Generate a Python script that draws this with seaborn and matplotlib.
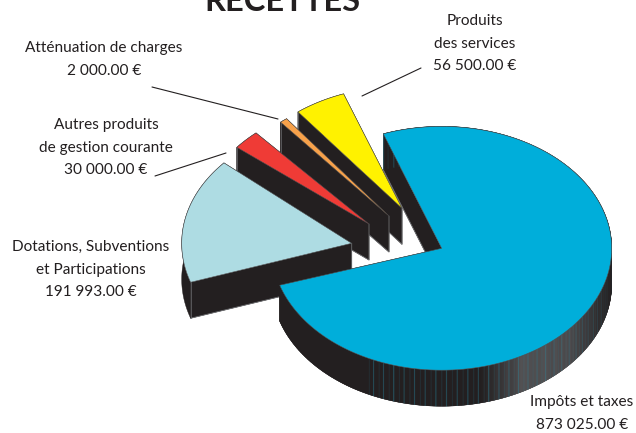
import numpy as np
import matplotlib
matplotlib.use("Agg")
import matplotlib.pyplot as plt
from matplotlib.patches import Polygon
import seaborn as sns

# ---- data ----
categories = ["Impôts et taxes", "Dotations, Subventions\net Participations",
              "Autres produits\nde gestion courante", "Atténuation de charges",
              "Produits\ndes services"]
values = [873025.00, 191993.00, 30000.00, 2000.00, 56500.00]
amounts = ["873 025.00 €", "191 993.00 €", "30 000.00 €", "2 000.00 €", "56 500.00 €"]
title_text = "RECETTES"

# ---- style / layout ----
face_colors = ["#00aeda", "#aedce3", "#ef3b36", "#f7a14a", "#fff200"]
tips = [(441.7, 248.3), (351.7, 243.3), (369, 224), (389, 216), (402, 208.3)]
angle_nudges = [0.5, 1.5, 3.8, 0.8, 0.5]
label_pos = [(582, 402), (91, 247), (106, 125), (104, 48), (475, 21)]
leaders = [((155, 176), (226, 153)), ((152, 87), (278, 119)), ((362, 96), (421, 68))]
START, RX, SQUASH, DEPTH, MIN_SWEEP = 109.6, 170.0, 0.717, 36.0, 2.6
DARK = "#231f20"
EDGE = "#6d6e71"

sns.set_theme(style="white")
plt.rcParams["font.family"] = ["Lato", "DejaVu Sans"]
fig, ax = plt.subplots(figsize=(6.36, 4.33), dpi=100)
ax.set_position([0, 0, 1, 1])
ax.set_xlim(0, 636)
ax.set_ylim(433, 0)
ax.axis("off")


def arc(tip, a1, a2, n):
    t = np.radians(np.linspace(a1, a2, n))
    return np.column_stack([tip[0] + RX * np.cos(t), tip[1] - RX * SQUASH * np.sin(t)])


def side_color(x):
    """Shade of the rim of the large slice, lightest towards the lower right."""
    return float(np.interp(x, [280, 480, 525, 570, 612], [0.0, 0.0, 0.62, 0.55, 0.0]))


base = np.array(matplotlib.colors.to_rgb(DARK))
grey = np.array(matplotlib.colors.to_rgb("#77787b"))
teal = np.array(matplotlib.colors.to_rgb("#2a8ca6"))

total = sum(values)
sweeps = [v / total * 360 for v in values]
ranges = []
cursor = START
for s, nudge in zip(sweeps, angle_nudges):
    mid = cursor - s / 2 + nudge
    shown = max(s, MIN_SWEEP)
    ranges.append((mid + shown / 2, mid - shown / 2))
    cursor -= s

down = np.array([0, DEPTH])
# painted back to front
for i in [4, 3, 2, 1, 0]:
    a1, a2 = ranges[i]
    tip = np.array(tips[i])
    z = 10 + (4 - i) * 10
    n = max(int(abs(a1 - a2) * 2.5), 6)
    rim = arc(tip, a1, a2, n)
    # dark underlay: straight sides and rim together
    for p in (rim[-1], rim[0]):
        ax.add_patch(Polygon([tip, p, p + down, tip + down], closed=True,
                             fc=DARK, ec=DARK, lw=0.3, zorder=z))
    ax.add_patch(Polygon(np.vstack([rim, (rim + down)[::-1]]), closed=True,
                         fc=DARK, ec=DARK, lw=0.3, zorder=z))
    # light edges of the visible straight side
    p = rim[0]
    ax.plot(*np.column_stack([tip, tip + down, p + down]), color=EDGE, lw=0.6, zorder=z + 1)
    ax.plot(*np.column_stack([p, p + down]), color=EDGE, lw=0.5, zorder=z + 1)
    # curved rim of the large slice in narrow strips
    if i == 0:
        for k in range(n - 1):
            p, q = rim[k], rim[k + 1]
            c = base + (grey - base) * side_color((p[0] + q[0]) / 2)
            if p[0] > 365 and k % 9 == 0:
                c = c * 0.6 + teal * 0.4
            elif p[0] > 365 and k % 9 == 4:
                c = c * 0.85 + teal * 0.15
            ax.add_patch(Polygon([p, q, q + down, p + down], closed=True, fc=c, ec=c, lw=0.2,
                                 zorder=z + 1))
    ax.add_patch(Polygon(np.vstack([[tip], rim]), closed=True, fc=face_colors[i],
                         ec="#4d4d4f", lw=0.4, zorder=z + 2))

for (x0, y0), (x1, y1) in leaders:
    ax.plot([x0, x1], [y0, y1], color="#231f20", lw=0.8, zorder=100)

for cat, amt, (x, y) in zip(categories, amounts, label_pos):
    for j, line in enumerate((cat + "\n" + amt).split("\n")):
        ax.text(x, y + j * 22.7, line, ha="center", va="center", fontsize=11.1,
                color="#231f20", zorder=110)

ax.text(282, 11, title_text, ha="center", va="baseline", fontsize=23.5, fontweight="bold",
        color="#231f20", zorder=110)

fig.savefig("out.png", dpi=100)
